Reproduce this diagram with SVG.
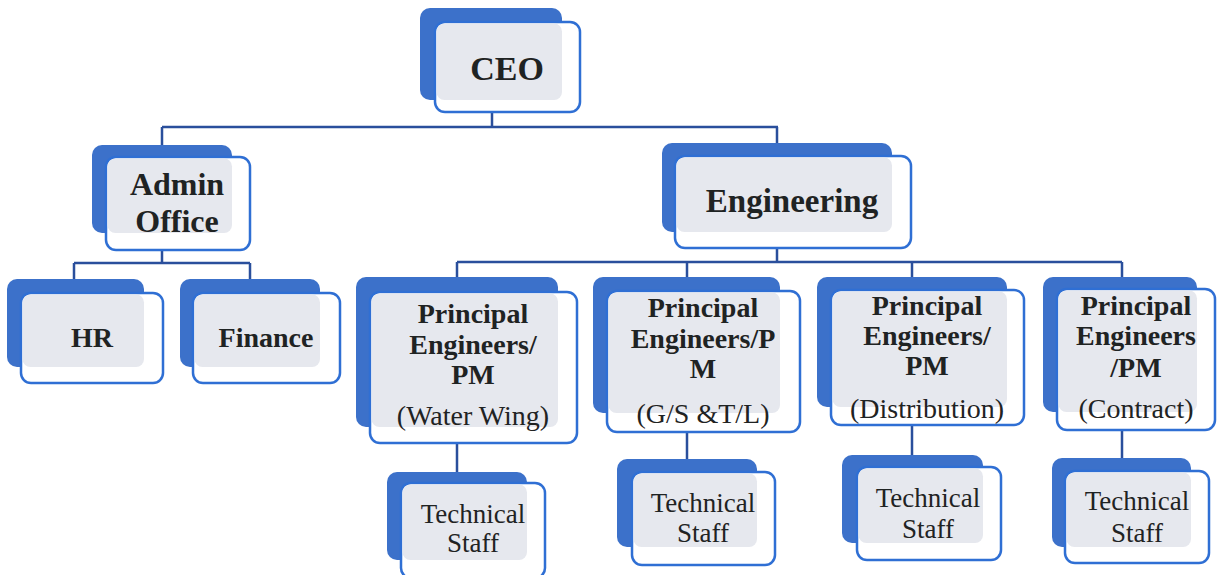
<svg xmlns="http://www.w3.org/2000/svg" width="1222" height="575" viewBox="0 0 1222 575">
<style>
.back{fill:#3c71ca}
.front{fill:#ffffff;stroke:#2f6fd4;stroke-width:2.5}
.tint{fill:#e6e8ee}
.conn{stroke:#2a4f9c;stroke-width:2.5;fill:none}
.b{font-family:"Liberation Serif","Times New Roman",serif;font-weight:bold;fill:#1f2323;text-anchor:middle}
.r{font-family:"Liberation Serif","Times New Roman",serif;fill:#1f2323;text-anchor:middle}
</style>
<rect x="0" y="0" width="1222" height="575" fill="#ffffff"/>
<g id="connectors">
<path class="conn" d="M492,112V127M162,127H778M162,127V145M777,127V143"/>
<path class="conn" d="M162,250V263M74,263H250M74,263V279M250,263V279"/>
<path class="conn" d="M777,248V262M457,262H1122M457,262V277M687,262V277M912,262V277M1122,262V277"/>
<path class="conn" d="M457,443V472M687,432V459M912,425V455M1122,430V458"/>
</g>
<g id="ceo">
<rect class="back" x="420" y="8" width="142" height="92" rx="10"/>
<rect class="front" x="435" y="22" width="145" height="90" rx="10"/>
<rect class="tint" x="436.5" y="23.5" width="125.5" height="76.5" rx="8"/>
<text class="b" x="507" y="80" font-size="34">CEO</text>
</g>
<g id="admin">
<rect class="back" x="92" y="145" width="140" height="88" rx="10"/>
<rect class="front" x="106" y="157" width="144" height="93" rx="10"/>
<rect class="tint" x="107.5" y="158.5" width="124.5" height="74.5" rx="8"/>
<text class="b" x="177" y="195" font-size="32">Admin</text>
<text class="b" x="177" y="232" font-size="32">Office</text>
</g>
<g id="engineering">
<rect class="back" x="662" y="143" width="230" height="89" rx="10"/>
<rect class="front" x="675" y="156" width="236" height="92" rx="10"/>
<rect class="tint" x="676.5" y="157.5" width="215.5" height="74.5" rx="8"/>
<text class="b" x="792" y="212" font-size="33">Engineering</text>
</g>
<g id="hr">
<rect class="back" x="7" y="279" width="137" height="88" rx="10"/>
<rect class="front" x="21" y="293" width="142" height="90" rx="10"/>
<rect class="tint" x="22.5" y="294.5" width="121.5" height="72.5" rx="8"/>
<text class="b" x="92" y="347" font-size="28">HR</text>
</g>
<g id="finance">
<rect class="back" x="180" y="279" width="140" height="88" rx="10"/>
<rect class="front" x="193" y="293" width="147" height="90" rx="10"/>
<rect class="tint" x="194.5" y="294.5" width="125.5" height="72.5" rx="8"/>
<text class="b" x="266" y="347" font-size="28">Finance</text>
</g>
<g id="pe-water">
<rect class="back" x="356" y="277" width="202" height="150" rx="10"/>
<rect class="front" x="370" y="292" width="207" height="151" rx="10"/>
<rect class="tint" x="371.5" y="293.5" width="186.5" height="133.5" rx="8"/>
<text class="b" x="473" y="323" font-size="28">Principal</text>
<text class="b" x="473" y="354" font-size="28">Engineers/</text>
<text class="b" x="473" y="384" font-size="28">PM</text>
<text class="r" x="473" y="425" font-size="28">(Water Wing)</text>
</g>
<g id="pe-gs">
<rect class="back" x="593" y="277" width="187" height="136" rx="10"/>
<rect class="front" x="607" y="291" width="193" height="141" rx="10"/>
<rect class="tint" x="608.5" y="292.5" width="171.5" height="120.5" rx="8"/>
<text class="b" x="703" y="317" font-size="28">Principal</text>
<text class="b" x="703" y="348" font-size="28">Engineers/P</text>
<text class="b" x="703" y="378" font-size="28">M</text>
<text class="r" x="703" y="423" font-size="28">(G/S &amp;T/L)</text>
</g>
<g id="pe-distribution">
<rect class="back" x="817" y="277" width="190" height="130" rx="10"/>
<rect class="front" x="831" y="290" width="193" height="135" rx="10"/>
<rect class="tint" x="832.5" y="291.5" width="174.5" height="115.5" rx="8"/>
<text class="b" x="927" y="315" font-size="28">Principal</text>
<text class="b" x="927" y="345" font-size="28">Engineers/</text>
<text class="b" x="927" y="375" font-size="28">PM</text>
<text class="r" x="927" y="418" font-size="28">(Distribution)</text>
</g>
<g id="pe-contract">
<rect class="back" x="1043" y="277" width="154" height="135" rx="10"/>
<rect class="front" x="1057" y="289" width="158" height="141" rx="10"/>
<rect class="tint" x="1058.5" y="290.5" width="138.5" height="121.5" rx="8"/>
<text class="b" x="1136" y="315" font-size="28">Principal</text>
<text class="b" x="1136" y="345" font-size="28">Engineers</text>
<text class="b" x="1136" y="377" font-size="28">/PM</text>
<text class="r" x="1136" y="418" font-size="28">(Contract)</text>
</g>
<g id="ts-water">
<rect class="back" x="387" y="472" width="140" height="88" rx="10"/>
<rect class="front" x="401" y="483" width="144" height="95" rx="10"/>
<rect class="tint" x="402.5" y="484.5" width="124.5" height="75.5" rx="8"/>
<text class="r" x="473" y="523" font-size="27">Technical</text>
<text class="r" x="473" y="552" font-size="27">Staff</text>
</g>
<g id="ts-gs">
<rect class="back" x="617" y="459" width="140" height="88" rx="10"/>
<rect class="front" x="632" y="472" width="143" height="93" rx="10"/>
<rect class="tint" x="633.5" y="473.5" width="123.5" height="73.5" rx="8"/>
<text class="r" x="703" y="512" font-size="27">Technical</text>
<text class="r" x="703" y="542" font-size="27">Staff</text>
</g>
<g id="ts-distribution">
<rect class="back" x="842" y="455" width="141" height="88" rx="10"/>
<rect class="front" x="857" y="467" width="144" height="93" rx="10"/>
<rect class="tint" x="858.5" y="468.5" width="124.5" height="74.5" rx="8"/>
<text class="r" x="928" y="507" font-size="27">Technical</text>
<text class="r" x="928" y="538" font-size="27">Staff</text>
</g>
<g id="ts-contract">
<rect class="back" x="1052" y="458" width="139" height="89" rx="10"/>
<rect class="front" x="1065" y="471" width="144" height="92" rx="10"/>
<rect class="tint" x="1066.5" y="472.5" width="124.5" height="74.5" rx="8"/>
<text class="r" x="1137" y="510" font-size="27">Technical</text>
<text class="r" x="1137" y="542" font-size="27">Staff</text>
</g>
</svg>
